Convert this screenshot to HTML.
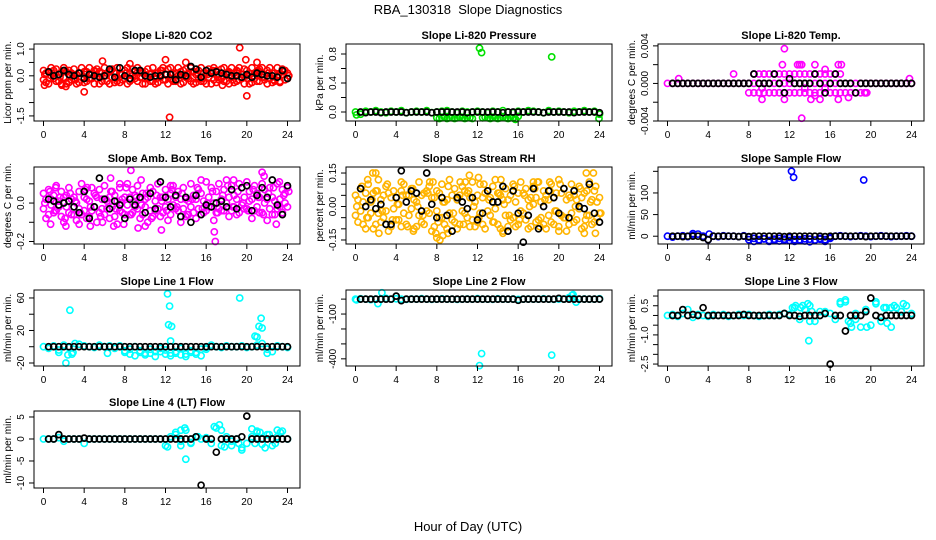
<!DOCTYPE html>
<html><head><meta charset="utf-8"><style>
html,body{margin:0;padding:0;background:#fff;}
svg{display:block;font-family:"Liberation Sans",Arial,sans-serif;}
</style></head><body>
<svg id="chart" width="936" height="540" viewBox="0 0 936 540" xmlns="http://www.w3.org/2000/svg">
<rect width="936" height="540" fill="#fff"/>
<text x="468" y="14" text-anchor="middle" font-size="13" style="white-space:pre">RBA_130318  Slope Diagnostics</text>
<text x="468" y="531" text-anchor="middle" font-size="13">Hour of Day (UTC)</text>
</svg>
<script>
// ---- data ----
const xTicks = [0,4,8,12,16,20,24];
const co2A = [0.2,-0.25,0.15,0.3,-0.1,0.25,-0.2,0.1,0.3,-0.3,0.2,-0.15,0.25,0.05,-0.25,0.3,0.15,-0.2,0.3,-0.1,0.2,0.25,-0.3,0.1,0.3,-0.2,0.15,0.25,-0.25,0.3,0.1,-0.15,0.2,0.3,-0.2,0.25,-0.1,0.3,0.2,-0.3,0.15,0.25,-0.2,0.3,0.1,-0.25,0.2,0.3,-0.15,0.25,0.3,-0.2,0.1,0.3,-0.3,0.2,0.25,-0.1,0.3,0.15,-0.25,0.2,0.3,-0.2,0.1,0.25,-0.3,0.3,0.2,-0.15,0.25,0.3,-0.2,0.15,0.3,-0.25,0.2,0.3,-0.1,0.25,0.2,-0.3,0.3,0.1,-0.2,0.25,0.3,-0.15,0.2,0.3,-0.25,0.1,0.3,-0.2,0.25,0.2,-0.1];
const co2B = [-0.15,0.1,-0.3,0.0,0.2,-0.2,0.05,-0.3,-0.05,0.15,-0.25,0.1,-0.1,-0.3,0.1,-0.05,-0.25,0.15,-0.1,0.05,-0.3,-0.1,0.15,-0.2,0.0,0.1,-0.3,-0.05,0.1,-0.2,-0.25,0.05,-0.1,-0.3,0.1,0.0,0.15,-0.2,-0.05,0.1,-0.3,-0.1,0.05,-0.2,-0.3,0.1,-0.05,-0.15,0.05,-0.3,-0.1,0.1,-0.2,0.0,0.15,-0.25,-0.05,0.1,-0.2,-0.3,0.05,-0.1,-0.2,0.1,-0.3,-0.05,0.15,-0.15,-0.25,0.05,-0.1,-0.2,0.1,-0.3,-0.05,0.1,-0.2,-0.15,0.05,-0.3,0.0,0.1,-0.25,-0.1,0.15,-0.2,-0.05,0.05,-0.3,-0.1,0.1,-0.2,0.0,-0.25,0.05,-0.15,0.1];
const co2C = [0.05,-0.1,0.1,-0.05,0.2,0.0,-0.15,0.1,0.05,-0.1,0.15,-0.05,0.0,0.2,-0.1,0.05,0.1,-0.15,0.0,0.15,-0.05,0.1,-0.1,0.2,0.05,-0.15,0.1,0.0,-0.05,0.15,0.1,-0.1,0.05,0.2,-0.05,0.0,0.1,-0.15,0.15,0.05,-0.1,0.0,0.2,-0.05,0.1,-0.15,0.05,0.15,0.0];
const co2OutH = [12.4,19.3,19.9,20,4,12,0.1,5.8,14,21,2.2,8.5,1.8,6.5,17.6];
const co2OutV = [-1.55,1.05,0.6,-0.75,-0.6,0.6,-0.35,0.55,0.5,0.5,-0.4,0.45,-0.35,-0.3,-0.35];
const co2Blk = [0.15,0.0,0.05,0.2,0.05,0.0,0.1,-0.1,0.05,0.0,-0.05,0.0,0.25,-0.05,0.3,0.0,-0.1,0.2,0.2,0.0,-0.05,0.0,0.0,0.05,0.05,-0.15,0.05,0.0,0.35,0.25,-0.05,0.2,0.1,0.15,0.1,0.05,0.0,0.0,-0.05,0.05,-0.05,0.1,0.05,0.0,0.0,-0.05,0.2,-0.1];

const presMain = [0,-0.03,0.01,0,0.02,0,-0.01,0.01,0,0.02,-0.01,0,0.01,0,0.02,-0.01,0,0.01,0.02,0,-0.01,0.01,0,0,0.01,0,-0.01,0.01,0,0.02,0,-0.01,0.01,0,0.02,0.01,0,-0.01,0.02,0,0.01,0,-0.01,0.01,0,0.02,0,0.01,-0.03];
const presLowH = [8,8.25,8.5,8.75,9,9.25,9.5,9.75,10,10.25,10.5,10.75,11,11.25,11.5,12.5,12.75,13,13.25,13.5,13.75,14,14.25,14.5,14.75,15,15.25,15.5,15.75,16];
const presLowV = [-0.08,-0.09,-0.08,-0.07,-0.09,-0.08,-0.08,-0.09,-0.08,-0.07,-0.08,-0.09,-0.08,-0.08,-0.09,-0.08,-0.07,-0.08,-0.09,-0.08,-0.08,-0.09,-0.08,-0.07,-0.08,-0.09,-0.08,-0.08,-0.1,-0.06];
const presOutH = [12.2,12.4,19.3,23.95,15.7,0.1];
const presOutV = [0.88,0.82,0.76,-0.09,-0.1,-0.04];
const presBlk = [0,-0.01,0,0,-0.01,0,0,0,0,-0.01,0,0,0,0,-0.01,0,0,0,0,0,0,-0.01,0,0,0,0,0,0,-0.01,0,0,0,0,0,0,0,-0.01,0,0,0,0,0,-0.01,0,0,0,0,-0.01];

const tempMain = [0,0,0,0,0,0,0,0,0,0,0,0,0,0,0,0,0,0,0,0,0,0,0,0,0,0,0,0,0,0,0,0,0,0,0,0,0,0,0,0,0,0,0,0,0,0,0,0,0];
const tempUpH = [8.5,9,9.5,10,10.5,11,11.5,12,12.5,13,13.5,14,14.5,15,15.5,16,16.5,17];
const tempUpV = [0.001,0.001,0.001,0.001,0.001,0.001,0.001,0.001,0.001,0.001,0.001,0.001,0.001,0.001,0.001,0.001,0.001,0.001];
const tempDnH = [8,8.5,9,9.5,10,10.5,11,11.5,12,12.5,13,13.5,14,14.5,15,15.5,16,16.5,17,17.5,18,18.5,19,19.5];
const tempDnV = [-0.001,-0.001,-0.001,-0.001,-0.001,-0.001,-0.001,-0.001,-0.001,-0.001,-0.001,-0.001,-0.001,-0.001,-0.001,-0.001,-0.001,-0.001,-0.001,-0.001,-0.001,-0.001,-0.001,-0.001];
const tempOutH = [1.1,6.5,11.3,11.5,13,13.2,14.5,15.5,16.8,17.1,9.3,9.3,11.5,14.1,15,16.8,17.8,13.2,23.8,9.5,13.5,14.5,15.5,19.4,19.6,12.8];
const tempOutV = [0.0005,0.001,0.002,0.0037,0.002,0.002,0.002,0.0015,0.002,0.002,-0.0005,-0.0017,-0.0017,-0.0017,-0.0017,-0.0017,-0.0015,-0.0037,0.0005,0.001,-0.0005,-0.0013,-0.0005,-0.001,-0.001,0.002];
const tempBlk = [0,0,0,0,0,0,0,0,0,0,0,0,0,0,0,0,0.001,0,0,0,0.001,0,-0.001,0.0005,0,0,0,0,0.001,0,-0.001,0,0.001,0,0,0,-0.001,0,0,0,0,0,0,0,0,0,0,0];

const ambA = [0.05,-0.08,0.07,0.02,-0.05,0.09,-0.02,0.06,-0.1,0.04,0.08,-0.06,0.03,-0.09,0.06,0.1,-0.04,0.02,-0.07,0.08,0.05,-0.1,0.07,-0.03,0.09,0.01,-0.08,0.06,0.04,-0.11,0.08,-0.05,0.03,0.1,-0.06,0.07,-0.02,0.09,-0.08,0.05,0.02,-0.1,0.08,0.06,-0.04,0.1,-0.07,0.03,0.07,-0.09,0.05,0.09,-0.03,0.06,-0.1,0.08,0.02,-0.06,0.1,0.04,-0.08,0.07,0.05,-0.05,0.11,-0.02,0.08,-0.09,0.06,0.1,-0.04,0.07,0.12,-0.07,0.09,0.04,-0.06,0.1,0.08,-0.03,0.11,0.06,-0.08,0.09,0.05,-0.05,0.1,0.07,-0.09,0.08,0.03,-0.06,0.1,-0.02,0.07,0.05,0.08];
const ambB = [-0.03,0.02,-0.06,-0.01,0.04,-0.04,0.01,-0.07,0.03,-0.02,-0.05,0.02,-0.06,0.0,-0.03,-0.06,0.03,-0.08,0.01,-0.04,-0.02,0.03,-0.05,0.02,-0.06,-0.03,0.03,-0.02,-0.07,0.01,-0.04,0.02,-0.06,-0.01,0.03,-0.05,0.04,-0.03,0.02,-0.06,-0.02,0.03,-0.04,-0.07,0.01,-0.03,0.03,-0.05,-0.02,0.02,-0.06,-0.01,0.03,-0.04,0.02,-0.03,-0.07,0.01,-0.02,-0.05,0.02,-0.03,-0.06,0.01,-0.04,0.03,-0.02,0.0,-0.05,-0.03,0.02,-0.04,0.0,0.03,-0.04,-0.02,0.02,-0.05,-0.01,0.03,-0.03,0.01,0.02,-0.04,-0.02,0.03,-0.05,0.0,0.02,-0.03,-0.06,0.01,-0.03,0.02,-0.05,0.0,-0.02];
const ambC = [0.0,0.06,-0.04,0.03,-0.08,0.05,0.01,-0.05,0.07,-0.02,0.04,-0.07,0.02,0.06,-0.03,0.0,0.08,-0.06,0.03,-0.01,0.05,-0.08,0.04,0.01,-0.04,0.07,-0.02,0.05,-0.06,0.02,0.08,-0.03,0.0,0.06,-0.05,0.04,0.09,-0.02,0.06,0.0,-0.04,0.07,0.03,-0.06,0.05,0.08,-0.01,0.04,0.06];
const ambOutH = [0.7,1.2,3.5,4.6,5.8,6.6,8.6,9.3,9.6,10,11.6,12.5,16.8,16.9,18.7,21.5,21.7,22.9,23.2,6.9,7.5,2.2,7.9,4.3,15.5];
const ambOutV = [-0.11,0.08,-0.11,-0.12,-0.1,0.13,0.17,-0.13,0.12,-0.12,-0.14,0.09,-0.15,-0.2,0.12,0.16,0.14,-0.11,0.11,-0.12,0.1,-0.12,-0.11,0.08,0.12];
const ambBlk = [0.02,0.01,-0.01,0.0,0.01,-0.02,-0.05,0.06,-0.08,-0.02,0.13,0.02,-0.03,0.01,-0.01,-0.08,0.02,-0.01,0.03,-0.05,0.05,-0.03,0.11,0.03,-0.02,0.04,-0.07,0.03,-0.1,0.04,-0.06,-0.01,-0.02,0.0,0.01,-0.02,0.07,-0.03,0.08,0.09,-0.04,0.04,0.08,0.03,0.12,-0.01,-0.06,0.09];

const rhA = [0.05,-0.07,0.08,0.02,-0.1,0.1,-0.03,0.06,-0.08,0.12,0.03,-0.05,0.09,-0.11,0.04,0.07,-0.06,0.01,-0.09,0.1,0.05,-0.04,0.08,-0.1,0.02,0.11,-0.07,0.06,-0.02,0.09,-0.11,0.04,0.07,-0.05,0.1,-0.08,0.03,0.12,-0.06,0.08,-0.1,0.05,0.09,-0.03,0.06,-0.09,0.11,0.02,-0.07,0.1,0.04,-0.1,0.07,-0.04,0.09,0.12,-0.08,0.05,-0.11,0.08,0.03,-0.06,0.1,-0.09,0.06,0.11,-0.03,0.08,-0.1,0.04,0.09,-0.07,0.11,-0.05,0.07,-0.1,0.03,0.1,-0.08,0.06,0.12,-0.04,0.08,-0.11,0.05,0.1,-0.07,0.03,0.09,-0.1,0.06,-0.04,0.11,-0.08,0.07,-0.05,0.04];
const rhB = [-0.04,0.03,-0.02,-0.08,0.06,-0.05,0.02,-0.1,0.07,-0.03,-0.07,0.05,-0.02,0.06,-0.09,-0.01,0.04,-0.06,0.07,-0.03,-0.08,0.05,-0.01,0.03,-0.09,-0.04,0.05,-0.08,0.07,-0.03,0.04,-0.09,-0.02,0.06,-0.05,0.02,-0.1,-0.03,0.05,-0.07,0.03,-0.08,-0.02,0.07,-0.05,0.04,-0.06,-0.09,0.05,-0.03,-0.08,0.06,-0.02,0.04,-0.07,-0.01,0.06,-0.1,0.03,-0.04,-0.09,0.05,-0.05,0.02,-0.08,-0.02,0.06,-0.06,0.03,-0.09,0.01,0.04,-0.06,0.02,-0.08,0.05,-0.04,-0.07,0.04,-0.02,-0.09,0.06,-0.05,0.03,-0.08,-0.03,0.05,-0.06,-0.01,0.04,-0.09,0.07,-0.04,0.03,-0.07,0.02,-0.03];
const rhC = [0.0,0.09,-0.05,0.03,0.07,-0.02,0.1,-0.06,0.01,0.05,-0.09,0.08,0.0,-0.04,0.06,0.11,-0.07,0.02,0.09,-0.03,0.04,-0.08,0.07,0.0,-0.05,0.1,0.03,-0.07,0.06,0.01,-0.04,0.09,-0.06,0.05,0.0,0.08,-0.09,0.03,0.07,-0.02,0.1,-0.05,0.04,0.0,0.08,-0.06,0.02,0.09,-0.03];
const rhOutH = [1.7,2,4.5,7.3,10.3,10.8,11.2,12.1,14.3,19.1,22.7,23.4,7.9,8,8.3,8.6,9.1,5.7,2.3,14.5,20,22.5,23.6,17.5,17.9,1.2];
const rhOutV = [0.15,0.15,0.11,0.11,0.11,0.11,0.14,0.13,0.12,0.11,0.15,0.15,-0.12,-0.14,-0.15,-0.13,-0.12,-0.11,-0.12,-0.12,-0.11,-0.12,-0.12,0.11,0.11,0.12];
const rhBlk = [0.08,0.0,0.03,-0.01,0.01,-0.08,-0.08,0.04,0.16,0.02,0.07,0.06,-0.02,0.15,0.01,-0.05,0.04,-0.04,-0.11,0.04,0.02,-0.01,0.04,-0.06,-0.03,0.07,0.02,0.02,0.09,-0.11,0.07,-0.03,-0.16,-0.04,0.08,-0.1,0.0,0.07,0.04,-0.03,0.08,-0.05,0.07,0.0,-0.01,0.1,-0.03,-0.07];

const sfMain = [0,-2,0,1,-1,2,5,0,-8,0,-1,1,0,0,-1,1,-2,-5,-8,-6,-10,-7,-5,-9,-3,-8,-10,-6,-7,-9,-5,-8,-3,0,1,0,-1,0,1,0,-1,0,1,0,-1,0,0,1,0];
const sfLowH = [8,8.5,9,9.5,10,10.5,11,11.5,12,12.5,13,13.5,14,14.5,15,15.5,16];
const sfLowV = [-8,-12,-10,-6,-12,-9,-11,-7,-10,-12,-8,-11,-13,-9,-7,-12,-5];
const sfOutH = [12.2,12.4,19.3,2.5,4.1];
const sfOutV = [150,136,130,6,5];
const sfBlk = [0,0,-1,0,0,0,-3,-8,0,0,0,0,0,-1,0,-1,0,0,0,0,0,0,-1,0,0,0,0,0,0,0,-1,0,0,0,0,0,0,0,-1,0,0,0,0,0,0,0,0,0];

const l1Main = [0,-2,1,-4,2,-1,0,3,1,0,-1,2,0,1,-2,1,-7,-3,0,-5,-8,-3,-6,-2,-4,-8,-6,-2,-9,-5,-7,-3,-1,2,0,-1,1,0,0,1,-1,0,2,4,-3,-6,1,0,-1];
const l1LowH = [8,8.5,9,9.5,10,10.5,11,11.5,12,12.5,13,13.5,14,14.5,15,15.5,16];
const l1LowV = [-5,-9,-11,-7,-10,-8,-12,-6,-9,-11,-8,-10,-12,-7,-9,-11,-3];
const l1OutH = [2.2,2.6,2.4,2.8,3.1,12.2,12.4,12.3,12.6,12.5,19.3,20.8,21.0,21.2,21.4,21.5,1.5,2.9,22,6.3];
const l1OutV = [-20,45,-10,-9,4,65,50,27,25,7,60,13,12,25,35,23,-7,-7,-8,-8];
const l1Blk = [0,0,0,0,0,0,0,0,0,0,0,0,0,0,0,0,0,0,0,0,0,0,0,0,0,0,0,0,0,0,0,0,0,0,0,0,0,0,0,0,0,0,0,0,0,0,0,0];

const l2Main = [0,2,0,-3,1,0,5,0,2,0,-2,1,0,3,0,-1,0,2,0,0,-2,0,1,0,3,0,0,-1,2,0,0,1,-2,0,1,0,0,2,0,-1,0,0,10,5,0,1,0,0,2];
const l2OutH = [2.6,2.2,12.2,12.4,19.3,21.3,21.4,0.1,21.7];
const l2OutV = [42,-30,-445,-365,-375,25,30,-5,-20];
const l2Blk = [0,0,0,0,0,0,0,20,-10,0,0,0,0,0,0,0,0,0,0,0,0,0,0,0,0,0,0,0,0,0,0,-8,0,0,0,0,0,0,0,5,0,0,0,0,0,0,0,0];

const l3Main = [0,0.05,-0.05,0.1,0.3,-0.1,0.05,0,-0.05,0.05,0,0.05,-0.05,0,0.05,0,0.05,0,-0.05,0,0.05,0,0.05,0.1,0.05,0.4,-0.2,0.3,0.5,-0.3,0.2,0.1,0.1,-0.2,0.6,0.7,-0.4,0.1,-0.6,0.3,-0.5,0.6,-0.3,0.4,-0.6,0.4,0.2,0.5,0.1];
const l3ScatH = [12.3,12.6,13.1,13.3,13.8,14,14.2,17,17.5,17.8,18.1,18.5,19.5,19.6,20.5,21,21.3,21.6,22,22.3,23,23.2,13.9,15.5];
const l3ScatV = [0.4,0.5,0.4,0.5,0.6,-0.3,0.2,0.7,0.8,-0.3,-0.6,-0.2,0.3,-0.6,0.7,-0.3,0.4,-0.4,0.4,0.5,0.2,0.6,-1.3,0.2];
const l3Blk = [0,0,0.3,0,0.05,0,0.4,0,0,0,0,0,0,0,0.05,0,0,0,0,0,0,0,0.1,0,0,-0.05,0,0,0,0,0.1,-2.5,0,0,-0.8,0,0,0,0.2,0.9,0,-0.1,0,0,0,0,0,0];

const l4Main = [0,0,0,0.3,-0.5,0,0,0,-1,0,0,0,0,0,0,0,0,0,0,0,0,0,0,0,-1.5,0.5,1,-0.5,2,-0.8,0.5,0,0.3,-1,2.5,-1.5,0.5,-0.5,0,-2,-1,0.5,1.5,-1.2,1,-1.5,0.5,1.8,0];
const l4ScatH = [12.2,13,13.5,13.9,14,14.5,15.2,16.8,17.3,17.5,17.8,18.5,19.2,19.5,20.5,20.8,21,21.3,21.8,22.2,22.8,23,23.3,13.5];
const l4ScatV = [-1.8,1.5,2,2.5,-4.6,-1,0.5,2.8,3.2,2,-1.8,-1.5,-1,-2.5,2.3,-1,1.8,1.5,-2,1,-1,2,1.5,-1.5];
const l4Blk = [0,0,1,0,0,0,0,0.2,0,0,0,0,0,0,0,0,0,0,0,0,0,0,0,0,0,0,0,0,0,0.5,-10.5,0,0,-3,0,0,0,0,0.5,5.2,0,0,0,0,0,0,0,0];

// ---- rendering ----
const NS = 'http://www.w3.org/2000/svg';
const svg = document.getElementById('chart');
const cols = [[34,300],[346,612],[658,924]];
const rows = [[44,121],[167,244],[290,366],[411,488]];
function mk(tag, attrs, parent){const e=document.createElementNS(NS,tag);for(const k in attrs)e.setAttribute(k,attrs[k]);(parent||svg).appendChild(e);return e;}
function hourGrid(n, start, step){const a=[];for(let i=0;i<n;i++)a.push(start+step*i);return a;}

function panel(p){
  const [L,R]=cols[p.col], [T,B]=rows[p.row];
  const g=mk('g',{});
  
  
  const xs=h=>(L+9.5)+h*((R-12.5)-(L+9.5))/24;
  const ys=v=>T+(p.ylim[1]-v)/(p.ylim[1]-p.ylim[0])*(B-T);
  const t=mk('text',{x:(L+R)/2,y:T-5,'text-anchor':'middle','font-size':11,'font-weight':'bold'},g);
  t.textContent=p.title;
  
  
  function pts(H,V,color,name,w,r){
    const n=Math.min(H.length,V.length);
    for(let i=0;i<n;i++){
      if(V[i]===null)continue;
      const c=mk('circle',{cx:xs(H[i]).toFixed(1),cy:ys(V[i]).toFixed(1),r:r,fill:'none',stroke:color,'stroke-width':w},g);
      
      
    }
  }
  p.series.forEach(s=>pts(s.h,s.v,p.color,p.id+'-point',1.6,3.1));
  pts(hourGrid(p.blk.length,0.5,0.5),p.blk,'#000',p.id+'-mean-point',1.7,3);
  const box=mk('rect',{x:L,y:T,width:R-L,height:B-T,fill:'none',stroke:'#000','stroke-width':1},g);
  
  
  xTicks.forEach(h=>{
    mk('line',{x1:xs(h),x2:xs(h),y1:B,y2:B+5,stroke:'#000'},g);
    const tx=mk('text',{x:xs(h),y:B+17,'text-anchor':'middle','font-size':10},g);
    tx.textContent=h;
    
    
  });
  p.yTicks.forEach(v=>mk('line',{x1:L-5,x2:L,y1:ys(v),y2:ys(v),stroke:'#000'},g));
  p.yLabels.forEach((lab,i)=>{
    const y=ys(p.yLabelVals[i]);
    const tx=mk('text',{x:L-10,y:y,'text-anchor':'middle','font-size':10,transform:`rotate(-90 ${L-10} ${y})`},g);
    tx.textContent=lab;
    
    
  });
  const yc=(T+B)/2;
  const yt=mk('text',{x:L-23,y:yc,'text-anchor':'middle','font-size':10,transform:`rotate(-90 ${L-23} ${yc})`},g);
  yt.textContent=p.ytitle;
  
  
}

const H25=hourGrid(97,0,0.25), H50=hourGrid(49,0,0.5), H50b=hourGrid(49,0.125,0.5);
panel({id:'co2',col:0,row:0,title:'Slope Li-820 CO2',ytitle:'Licor ppm per min.',color:'#ff0000',ylim:[-1.69,1.19],
  yTicks:[-1.5,-1,-0.5,0,0.5,1],yLabels:['-1.5','0.0','1.0'],yLabelVals:[-1.5,0,1],
  series:[{h:H25,v:co2A},{h:H25,v:co2B},{h:H50b,v:co2C},{h:co2OutH,v:co2OutV}],blk:co2Blk});
panel({id:'pressure',col:1,row:0,title:'Slope Li-820 Pressure',ytitle:'kPa per min.',color:'#00e000',ylim:[-0.124,0.938],
  yTicks:[0,0.2,0.4,0.6,0.8],yLabels:['0.0','0.4','0.8'],yLabelVals:[0,0.4,0.8],
  series:[{h:H50,v:presMain},{h:presLowH,v:presLowV},{h:presOutH,v:presOutV}],blk:presBlk});
panel({id:'temp',col:2,row:0,title:'Slope Li-820 Temp.',ytitle:'degrees C per min.',color:'#ff00ff',ylim:[-0.0040,0.0042],
  yTicks:[-0.004,-0.002,0,0.002,0.004],yLabels:['-0.004','0.000','0.004'],yLabelVals:[-0.004,0,0.004],
  series:[{h:H50,v:tempMain},{h:tempUpH,v:tempUpV},{h:tempDnH,v:tempDnV},{h:tempOutH,v:tempOutV}],blk:tempBlk});
panel({id:'amb-box-temp',col:0,row:1,title:'Slope Amb. Box Temp.',ytitle:'degrees C per min.',color:'#ff00ff',ylim:[-0.213,0.1875],
  yTicks:[-0.2,-0.1,0,0.1],yLabels:['-0.2','0.0'],yLabelVals:[-0.2,0],
  series:[{h:H25,v:ambA},{h:H25,v:ambB},{h:H50b,v:ambC},{h:ambOutH,v:ambOutV}],blk:ambBlk});
panel({id:'gas-stream-rh',col:1,row:1,title:'Slope Gas Stream RH',ytitle:'percent per min.',color:'#ffb400',ylim:[-0.168,0.177],
  yTicks:[-0.15,-0.1,-0.05,0,0.05,0.1,0.15],yLabels:['-0.15','0.00','0.15'],yLabelVals:[-0.15,0,0.15],
  series:[{h:H25,v:rhA},{h:H25,v:rhB},{h:H50b,v:rhC},{h:rhOutH,v:rhOutV}],blk:rhBlk});
panel({id:'sample-flow',col:2,row:1,title:'Slope Sample Flow',ytitle:'ml/min per min.',color:'#0000ff',ylim:[-18,160],
  yTicks:[0,50,100,150],yLabels:['0','50','100'],yLabelVals:[0,50,100],
  series:[{h:H50,v:sfMain},{h:sfLowH,v:sfLowV},{h:sfOutH,v:sfOutV}],blk:sfBlk});
panel({id:'line1-flow',col:0,row:2,title:'Slope Line 1 Flow',ytitle:'ml/min per min.',color:'#00ffff',ylim:[-23.7,69.8],
  yTicks:[-20,0,20,40,60],yLabels:['-20','20','60'],yLabelVals:[-20,20,60],
  series:[{h:H50,v:l1Main},{h:l1LowH,v:l1LowV},{h:l1OutH,v:l1OutV}],blk:l1Blk});
panel({id:'line2-flow',col:1,row:2,title:'Slope Line 2 Flow',ytitle:'ml/min per min.',color:'#00ffff',ylim:[-448,61],
  yTicks:[-400,-300,-200,-100,0],yLabels:['-400','-100'],yLabelVals:[-400,-100],
  series:[{h:H50,v:l2Main},{h:l2OutH,v:l2OutV}],blk:l2Blk});
panel({id:'line3-flow',col:2,row:2,title:'Slope Line 3 Flow',ytitle:'ml/min per min.',color:'#00ffff',ylim:[-2.6,1.31],
  yTicks:[-2.5,-2,-1.5,-1,-0.5,0,0.5,1],yLabels:['-2.5','-1.0','0.5'],yLabelVals:[-2.5,-1,0.5],
  series:[{h:H50,v:l3Main},{h:l3ScatH,v:l3ScatV}],blk:l3Blk});
panel({id:'line4-flow',col:0,row:3,title:'Slope Line 4 (LT) Flow',ytitle:'ml/min per min.',color:'#00ffff',ylim:[-11.14,6.36],
  yTicks:[-10,-5,0,5],yLabels:['-10','-5','0','5'],yLabelVals:[-10,-5,0,5],
  series:[{h:H50,v:l4Main},{h:l4ScatH,v:l4ScatV}],blk:l4Blk});
</script>
</body></html>
